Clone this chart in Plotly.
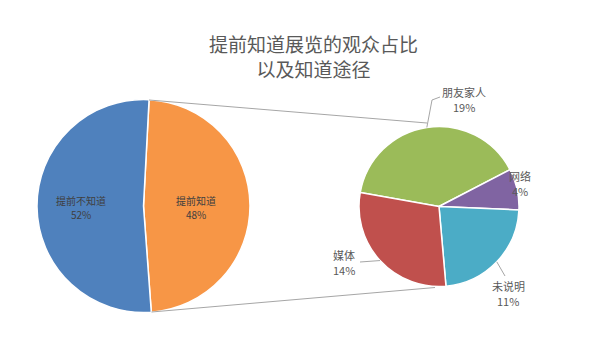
import math
import plotly.graph_objects as go

# ---- data ----
main_labels = ["提前知道", "提前不知道"]
main_values = [48, 52]

sub_labels = ["朋友家人", "网络", "未说明", "媒体"]
sub_values = [19, 4, 11, 14]

title_text = "提前知道展览的观众占比<br>以及知道途径"

# ---- style ----
FONT = "Noto Sans CJK SC"
main_colors = ["#F79646", "#4F81BD"]
sub_colors = ["#9BBB59", "#8064A2", "#4BACC6", "#C0504D"]
W, H = 600, 356
OFF = 8  # page body margin in the screenshot

MAIN_C, MAIN_R, MAIN_ROT = (143.5, 206.0), 106.5, 3
SUB_C, SUB_R, SUB_ROT = (439.0, 206.5), 80.0, -80

# label offsets (px from pie centre) for name line; percent line sits below
main_label_off = [(52.5, -6), (-63, -6)]
sub_label_off = [(24.5, -114.5), (81, -30.5), (69, 79.5), (-95, 48.5)]
sub_leader_end = [(-7, -106.5), None, (66, 69.5), (-79, 55.5)]


def px(x, y):
    return (x - OFF) / W, 1 - (y - OFF) / H


def domain(c, r):
    x0, y1 = px(c[0] - r, c[1] - r)
    x1, y0 = px(c[0] + r, c[1] + r)
    return dict(x=[x0, x1], y=[y0, y1])


def mid_angles(values, rot):
    tot = sum(values)
    start = 90 - rot
    out, cum = [], 0
    for v in values:
        out.append(start - (cum + v / 2) / tot * 360)
        cum += v
    return out


fig = go.Figure()
fig.add_trace(go.Pie(
    labels=main_labels, values=main_values, sort=False, direction="clockwise",
    rotation=MAIN_ROT, marker=dict(colors=main_colors, line=dict(color="white", width=1.5)),
    textinfo="none", domain=domain(MAIN_C, MAIN_R), showlegend=False, hoverinfo="label+value",
))
fig.add_trace(go.Pie(
    labels=sub_labels, values=sub_values, sort=False, direction="clockwise",
    rotation=SUB_ROT, marker=dict(colors=sub_colors, line=dict(color="white", width=1.5)),
    textinfo="none", domain=domain(SUB_C, SUB_R), showlegend=False, hoverinfo="label+value",
))


def add_label(x, y, name, pct, size, gap, color):
    for txt, yy in [(name, y), (pct, y + gap)]:
        ax, ay = px(x, yy)
        fig.add_annotation(x=ax, y=ay, xref="paper", yref="paper", text=txt, showarrow=False,
                           xanchor="center", yanchor="middle",
                           font=dict(size=size, color=color, family=FONT))


for lab, val, (dx, dy) in zip(main_labels, main_values, main_label_off):
    add_label(MAIN_C[0] + dx, MAIN_C[1] + dy, lab, f"{val}%", 10, 14, "#3F3F3F")

for lab, val, (dx, dy) in zip(sub_labels, sub_values, sub_label_off):
    add_label(SUB_C[0] + dx, SUB_C[1] + dy, lab, f"{val}%", 11, 15, "#595959")

# leader lines
for i, a in enumerate(mid_angles(sub_values, SUB_ROT)):
    end = sub_leader_end[i]
    if end is None:
        continue
    sx = SUB_C[0] + SUB_R * math.cos(math.radians(a))
    sy = SUB_C[1] - SUB_R * math.sin(math.radians(a))
    pts = [(sx, sy), (SUB_C[0] + end[0], SUB_C[1] + end[1])]
    if i == 0:
        pts.append((pts[-1][0] + 8, pts[-1][1] - 3))
    for (x0, y0), (x1, y1) in zip(pts[:-1], pts[1:]):
        a0, b0 = px(x0, y0)
        a1, b1 = px(x1, y1)
        fig.add_shape(type="line", xref="paper", yref="paper", x0=a0, y0=b0, x1=a1, y1=b1,
                      line=dict(color="#A6A6A6", width=1))

# connector lines between the pies
for (x0, y0, x1, y1) in [(149, 100, 427, 123), (151.5, 312, 435, 287.5)]:
    a0, b0 = px(x0, y0)
    a1, b1 = px(x1, y1)
    fig.add_shape(type="line", xref="paper", yref="paper", x0=a0, y0=b0, x1=a1, y1=b1,
                  line=dict(color="#A6A6A6", width=1))

tx, _ = px(313.5, 0)
fig.update_layout(
    width=W, height=H, margin=dict(l=0, r=0, t=0, b=0),
    paper_bgcolor="white", plot_bgcolor="white",
    title=dict(text=title_text, x=tx, xanchor="center", y=0.8765, yanchor="top",
               font=dict(size=19, color="#595959", family=FONT)),
    font=dict(family=FONT),
)
fig.write_html("out.html")
